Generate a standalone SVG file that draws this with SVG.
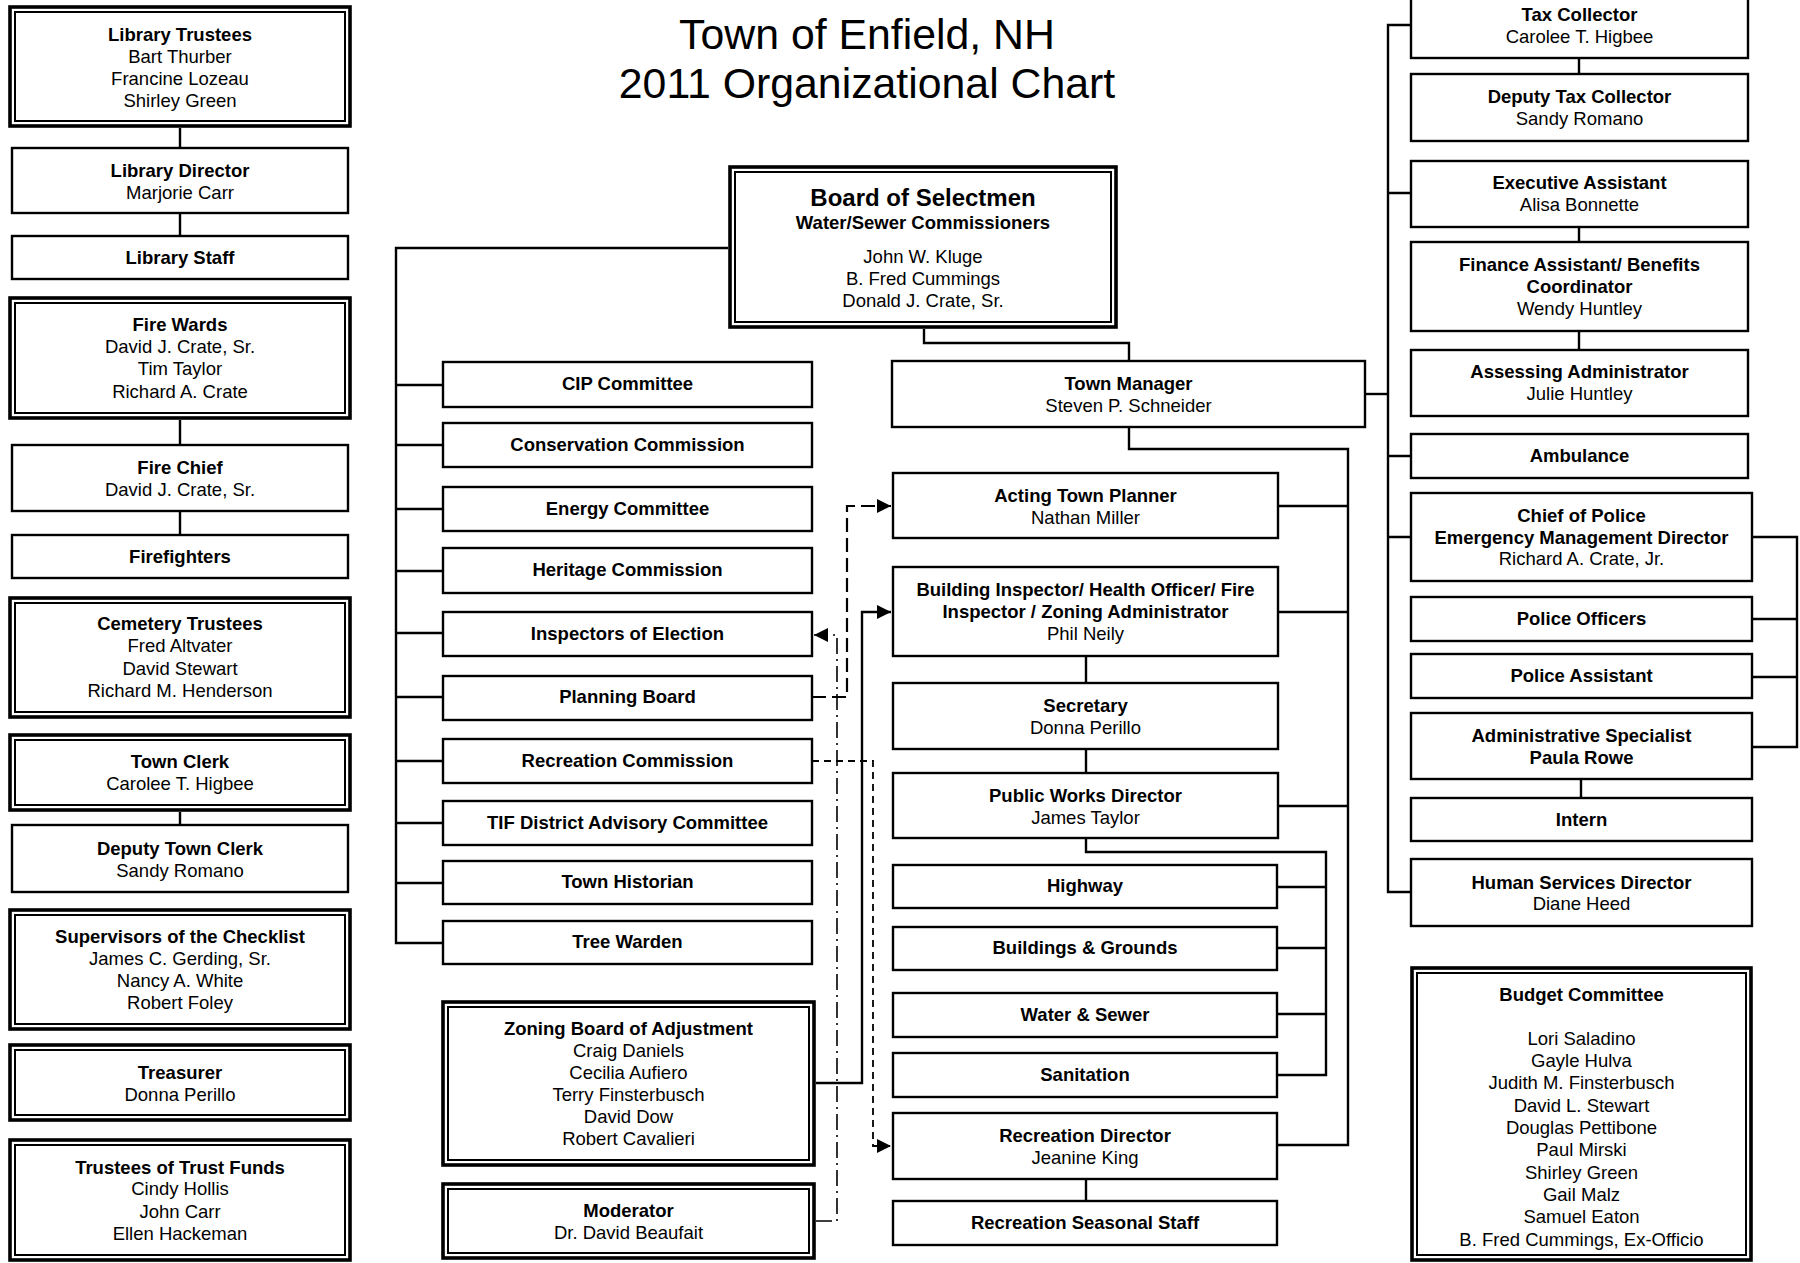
<svg xmlns="http://www.w3.org/2000/svg" width="1800" height="1263" viewBox="0 0 1800 1263">
<defs>
<style>
text{font-family:"Liberation Sans",Arial,sans-serif;font-size:18.5px;fill:#000;text-anchor:middle;transform:translateY(-1px)}
.b{font-weight:bold}
.t{font-size:42.8px}
.bt{font-size:24px;font-weight:bold}
.box{fill:#fff;stroke:#000;stroke-width:2.4}
.dbo{fill:#fff;stroke:#000;stroke-width:3.6}
.dbi{fill:none;stroke:#000;stroke-width:2}
.c{fill:none;stroke:#000;stroke-width:2.4}
.dl{fill:none;stroke:#000;stroke-width:2.2;stroke-dasharray:14 6}
.dd{fill:none;stroke:#000;stroke-width:1.6;stroke-dasharray:16 5 2 5}
.ds{fill:none;stroke:#000;stroke-width:1.8;stroke-dasharray:7 5}
</style>
<marker id="ah" viewBox="0 0 10 10" refX="10" refY="5" markerWidth="15" markerHeight="14" markerUnits="userSpaceOnUse" orient="auto">
<path d="M0,0 L10,5 L0,10 z" fill="#000"/>
</marker>
</defs>
<rect width="1800" height="1263" fill="#fff"/>

<g id="title">
<text class="t" x="867" y="49.5">Town of Enfield, NH</text>
<text class="t" x="867" y="98.5">2011 Organizational Chart</text>
</g>

<g id="connectors">
<path class="c" d="M180,128 V148 M180,213 V236 M180,420 V445 M180,511 V535 M180,812 V825"/>
<path class="c" d="M728,248 H396 V943 H443 M396,385 H443 M396,445 H443 M396,509 H443 M396,571 H443 M396,633 H443 M396,697 H443 M396,761 H443 M396,823 H443 M396,883 H443"/>
<path class="c" d="M924,329 V343 H1129 V361"/>
<path class="c" d="M1365,394 H1388"/>
<path class="c" d="M1411,25 H1388 V892 H1411 M1388,193 H1411 M1388,456 H1411 M1388,537 H1411"/>
<path class="c" d="M1579,58 V74 M1579,227 V242 M1579,331 V350 M1581,779 V798"/>
<path class="c" d="M1752,537 H1797 V747 H1752 M1752,619 H1797 M1752,677 H1797"/>
<path class="c" d="M1129,427 V449 H1348 V1145 H1277 M1278,506 H1348 M1278,612 H1348 M1278,806 H1348"/>
<path class="c" d="M1086,656 V683 M1086,749 V773 M1086,1179 V1201"/>
<path class="c" d="M1086,838 V852 H1326 V1075 H1277 M1277,887 H1326 M1277,948 H1326 M1277,1014 H1326"/>
<path class="c" d="M816,1083 H862 V612 H891" marker-end="url(#ah)"/>
<path class="dl" d="M812,697 H847 V506 H891" marker-end="url(#ah)"/>
<path class="dd" d="M816,1221 H837 V635 H814" marker-end="url(#ah)"/>
<path class="ds" d="M812,761 H873 V1146 H891" marker-end="url(#ah)"/>
</g>

<g id="library-trustees">
<rect class="dbo" x="10" y="7" width="340" height="119"/><rect class="dbi" x="15" y="12" width="330" height="109"/>
<text class="b" x="180" y="41.5">Library Trustees</text>
<text x="180" y="63.5">Bart Thurber</text>
<text x="180" y="85.5">Francine Lozeau</text>
<text x="180" y="108">Shirley Green</text>
</g>
<g id="library-director">
<rect class="box" x="12" y="148" width="336" height="65"/>
<text class="b" x="180" y="177.5">Library Director</text>
<text x="180" y="199.5">Marjorie Carr</text>
</g>
<g id="library-staff">
<rect class="box" x="12" y="236" width="336" height="43"/>
<text class="b" x="180" y="264.5">Library Staff</text>
</g>
<g id="fire-wards">
<rect class="dbo" x="10" y="298" width="340" height="120"/><rect class="dbi" x="15" y="303" width="330" height="110"/>
<text class="b" x="180" y="331.5">Fire Wards</text>
<text x="180" y="353.5">David J. Crate, Sr.</text>
<text x="180" y="376">Tim Taylor</text>
<text x="180" y="398.5">Richard A. Crate</text>
</g>
<g id="fire-chief">
<rect class="box" x="12" y="445" width="336" height="66"/>
<text class="b" x="180" y="474.5">Fire Chief</text>
<text x="180" y="496.5">David J. Crate, Sr.</text>
</g>
<g id="firefighters">
<rect class="box" x="12" y="535" width="336" height="43"/>
<text class="b" x="180" y="563.5">Firefighters</text>
</g>
<g id="cemetery-trustees">
<rect class="dbo" x="10" y="598" width="340" height="119"/><rect class="dbi" x="15" y="603" width="330" height="109"/>
<text class="b" x="180" y="630.5">Cemetery Trustees</text>
<text x="180" y="653">Fred Altvater</text>
<text x="180" y="675.5">David Stewart</text>
<text x="180" y="698">Richard M. Henderson</text>
</g>
<g id="town-clerk">
<rect class="dbo" x="10" y="735" width="340" height="75"/><rect class="dbi" x="15" y="740" width="330" height="65"/>
<text class="b" x="180" y="768.5">Town Clerk</text>
<text x="180" y="790.5">Carolee T. Higbee</text>
</g>
<g id="deputy-town-clerk">
<rect class="box" x="12" y="825" width="336" height="67"/>
<text class="b" x="180" y="855.5">Deputy Town Clerk</text>
<text x="180" y="877.5">Sandy Romano</text>
</g>
<g id="supervisors-checklist">
<rect class="dbo" x="10" y="910" width="340" height="119"/><rect class="dbi" x="15" y="915" width="330" height="109"/>
<text class="b" x="180" y="943.5">Supervisors of the Checklist</text>
<text x="180" y="965.5">James C. Gerding, Sr.</text>
<text x="180" y="987.5">Nancy A. White</text>
<text x="180" y="1009.5">Robert Foley</text>
</g>
<g id="treasurer">
<rect class="dbo" x="10" y="1045" width="340" height="75"/><rect class="dbi" x="15" y="1050" width="330" height="65"/>
<text class="b" x="180" y="1079.5">Treasurer</text>
<text x="180" y="1101.5">Donna Perillo</text>
</g>
<g id="trustees-trust-funds">
<rect class="dbo" x="10" y="1140" width="340" height="120"/><rect class="dbi" x="15" y="1145" width="330" height="110"/>
<text class="b" x="180" y="1174.5">Trustees of Trust Funds</text>
<text x="180" y="1196">Cindy Hollis</text>
<text x="180" y="1218.5">John Carr</text>
<text x="180" y="1240.5">Ellen Hackeman</text>
</g>

<g id="board-of-selectmen">
<rect class="dbo" x="730" y="167" width="386" height="160"/><rect class="dbi" x="735" y="172" width="376" height="150"/>
<text class="bt" x="923" y="206.5">Board of Selectmen</text>
<text class="b" x="923" y="229.5">Water/Sewer Commissioners</text>
<text x="923" y="263.5">John W. Kluge</text>
<text x="923" y="285.5">B. Fred Cummings</text>
<text x="923" y="308">Donald J. Crate, Sr.</text>
</g>

<g id="cip-committee"><rect class="box" x="443" y="362" width="369" height="45"/><text class="b" x="627.5" y="391">CIP Committee</text></g>
<g id="conservation-commission"><rect class="box" x="443" y="423" width="369" height="44"/><text class="b" x="627.5" y="451.5">Conservation Commission</text></g>
<g id="energy-committee"><rect class="box" x="443" y="487" width="369" height="44"/><text class="b" x="627.5" y="515.5">Energy Committee</text></g>
<g id="heritage-commission"><rect class="box" x="443" y="548" width="369" height="45"/><text class="b" x="627.5" y="577">Heritage Commission</text></g>
<g id="inspectors-of-election"><rect class="box" x="443" y="612" width="369" height="44"/><text class="b" x="627.5" y="640.5">Inspectors of Election</text></g>
<g id="planning-board"><rect class="box" x="443" y="676" width="369" height="44"/><text class="b" x="627.5" y="704">Planning Board</text></g>
<g id="recreation-commission"><rect class="box" x="443" y="739" width="369" height="44"/><text class="b" x="627.5" y="767.5">Recreation Commission</text></g>
<g id="tif-committee"><rect class="box" x="443" y="801" width="369" height="44"/><text class="b" x="627.5" y="829.5">TIF District Advisory Committee</text></g>
<g id="town-historian"><rect class="box" x="443" y="861" width="369" height="43"/><text class="b" x="627.5" y="889">Town Historian</text></g>
<g id="tree-warden"><rect class="box" x="443" y="921" width="369" height="43"/><text class="b" x="627.5" y="949">Tree Warden</text></g>

<g id="zoning-board">
<rect class="dbo" x="443" y="1002" width="371" height="163"/><rect class="dbi" x="448" y="1007" width="361" height="153"/>
<text class="b" x="628.5" y="1035.5">Zoning Board of Adjustment</text>
<text x="628.5" y="1057.5">Craig Daniels</text>
<text x="628.5" y="1079.5">Cecilia Aufiero</text>
<text x="628.5" y="1102">Terry Finsterbusch</text>
<text x="628.5" y="1124">David Dow</text>
<text x="628.5" y="1146">Robert Cavalieri</text>
</g>
<g id="moderator">
<rect class="dbo" x="443" y="1184" width="371" height="74"/><rect class="dbi" x="448" y="1189" width="361" height="64"/>
<text class="b" x="628.5" y="1217.5">Moderator</text>
<text x="628.5" y="1239.5">Dr. David Beaufait</text>
</g>

<g id="town-manager">
<rect class="box" x="892" y="361" width="473" height="66"/>
<text class="b" x="1128.5" y="390.5">Town Manager</text>
<text x="1128.5" y="412.5">Steven P. Schneider</text>
</g>
<g id="acting-town-planner">
<rect class="box" x="893" y="473" width="385" height="65"/>
<text class="b" x="1085.5" y="502.5">Acting Town Planner</text>
<text x="1085.5" y="524.5">Nathan Miller</text>
</g>
<g id="building-inspector">
<rect class="box" x="893" y="567" width="385" height="89"/>
<text class="b" x="1085.5" y="596.5">Building Inspector/ Health Officer/ Fire</text>
<text class="b" x="1085.5" y="618.5">Inspector / Zoning Administrator</text>
<text x="1085.5" y="641">Phil Neily</text>
</g>
<g id="secretary">
<rect class="box" x="893" y="683" width="385" height="66"/>
<text class="b" x="1085.5" y="712.5">Secretary</text>
<text x="1085.5" y="734.5">Donna Perillo</text>
</g>
<g id="public-works-director">
<rect class="box" x="893" y="773" width="385" height="65"/>
<text class="b" x="1085.5" y="802.5">Public Works Director</text>
<text x="1085.5" y="824.5">James Taylor</text>
</g>
<g id="highway"><rect class="box" x="893" y="865" width="384" height="43"/><text class="b" x="1085" y="893">Highway</text></g>
<g id="buildings-grounds"><rect class="box" x="893" y="927" width="384" height="43"/><text class="b" x="1085" y="955">Buildings &amp; Grounds</text></g>
<g id="water-sewer"><rect class="box" x="893" y="993" width="384" height="44"/><text class="b" x="1085" y="1021.5">Water &amp; Sewer</text></g>
<g id="sanitation"><rect class="box" x="893" y="1053" width="384" height="44"/><text class="b" x="1085" y="1081.5">Sanitation</text></g>
<g id="recreation-director">
<rect class="box" x="893" y="1113" width="384" height="66"/>
<text class="b" x="1085" y="1142.5">Recreation Director</text>
<text x="1085" y="1164.5">Jeanine King</text>
</g>
<g id="recreation-seasonal-staff"><rect class="box" x="893" y="1201" width="384" height="44"/><text class="b" x="1085" y="1229.5">Recreation Seasonal Staff</text></g>

<g id="tax-collector">
<rect class="box" x="1411" y="-2" width="337" height="60"/>
<text class="b" x="1579.5" y="21.5">Tax Collector</text>
<text x="1579.5" y="43.5">Carolee T. Higbee</text>
</g>
<g id="deputy-tax-collector">
<rect class="box" x="1411" y="74" width="337" height="67"/>
<text class="b" x="1579.5" y="103.5">Deputy Tax Collector</text>
<text x="1579.5" y="125.5">Sandy Romano</text>
</g>
<g id="executive-assistant">
<rect class="box" x="1411" y="161" width="337" height="66"/>
<text class="b" x="1579.5" y="189.5">Executive Assistant</text>
<text x="1579.5" y="211.5">Alisa Bonnette</text>
</g>
<g id="finance-assistant">
<rect class="box" x="1411" y="242" width="337" height="89"/>
<text class="b" x="1579.5" y="271.5">Finance Assistant/ Benefits</text>
<text class="b" x="1579.5" y="293.5">Coordinator</text>
<text x="1579.5" y="316">Wendy Huntley</text>
</g>
<g id="assessing-administrator">
<rect class="box" x="1411" y="350" width="337" height="66"/>
<text class="b" x="1579.5" y="378.5">Assessing Administrator</text>
<text x="1579.5" y="401">Julie Huntley</text>
</g>
<g id="ambulance"><rect class="box" x="1411" y="434" width="337" height="44"/><text class="b" x="1579.5" y="462.5">Ambulance</text></g>
<g id="chief-of-police">
<rect class="box" x="1411" y="493" width="341" height="88"/>
<text class="b" x="1581.5" y="522.5">Chief of Police</text>
<text class="b" x="1581.5" y="544.5">Emergency Management Director</text>
<text x="1581.5" y="566">Richard A. Crate, Jr.</text>
</g>
<g id="police-officers"><rect class="box" x="1411" y="597" width="341" height="44"/><text class="b" x="1581.5" y="625.5">Police Officers</text></g>
<g id="police-assistant"><rect class="box" x="1411" y="654" width="341" height="44"/><text class="b" x="1581.5" y="682.5">Police Assistant</text></g>
<g id="administrative-specialist">
<rect class="box" x="1411" y="713" width="341" height="66"/>
<text class="b" x="1581.5" y="742.5">Administrative Specialist</text>
<text class="b" x="1581.5" y="764.5">Paula Rowe</text>
</g>
<g id="intern"><rect class="box" x="1411" y="798" width="341" height="43"/><text class="b" x="1581.5" y="826.5">Intern</text></g>
<g id="human-services-director">
<rect class="box" x="1411" y="859" width="341" height="67"/>
<text class="b" x="1581.5" y="889.5">Human Services Director</text>
<text x="1581.5" y="910.5">Diane Heed</text>
</g>
<g id="budget-committee">
<rect class="dbo" x="1412" y="968" width="339" height="292"/><rect class="dbi" x="1417" y="973" width="329" height="282"/>
<text class="b" x="1581.5" y="1001.5">Budget Committee</text>
<text x="1581.5" y="1045.5">Lori Saladino</text>
<text x="1581.5" y="1068">Gayle Hulva</text>
<text x="1581.5" y="1090">Judith M. Finsterbusch</text>
<text x="1581.5" y="1112.5">David L. Stewart</text>
<text x="1581.5" y="1135">Douglas Pettibone</text>
<text x="1581.5" y="1157">Paul Mirski</text>
<text x="1581.5" y="1179.5">Shirley Green</text>
<text x="1581.5" y="1202">Gail Malz</text>
<text x="1581.5" y="1224">Samuel Eaton</text>
<text x="1581.5" y="1246.5">B. Fred Cummings, Ex-Officio</text>
</g>
</svg>
